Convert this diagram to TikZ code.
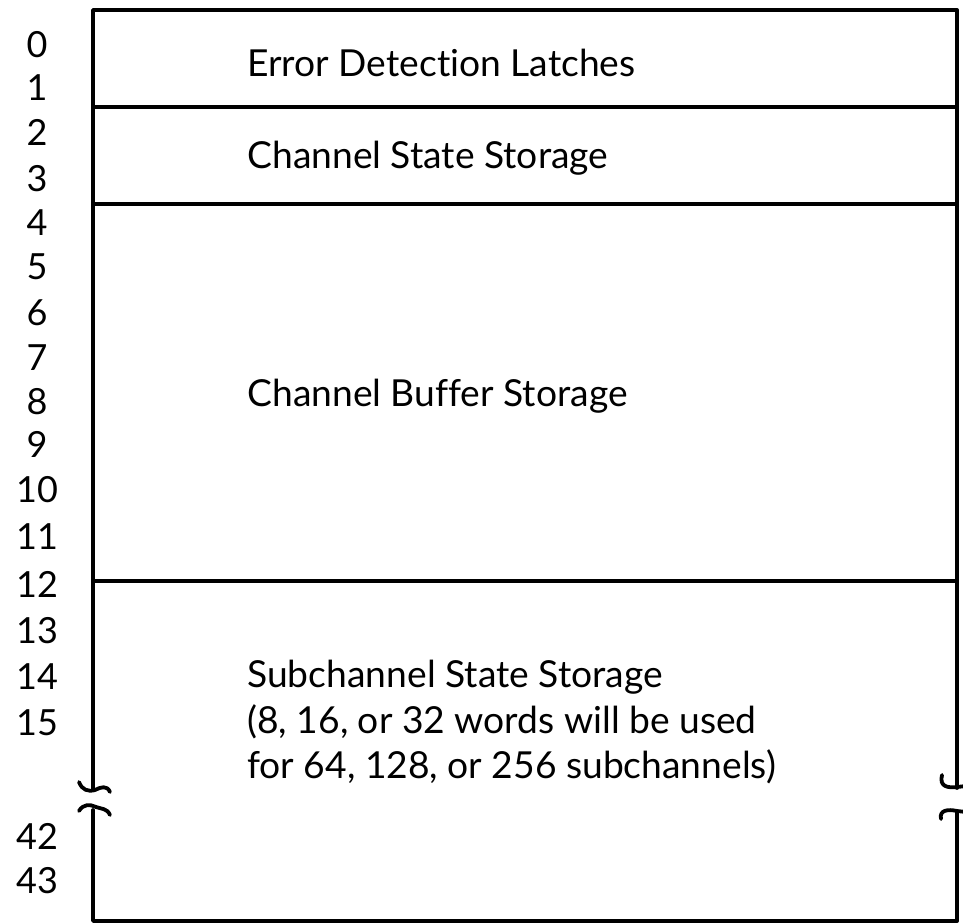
\documentclass[tikz,border=0pt]{standalone}
\usepackage{fontspec}
\setmainfont[Ligatures={NoCommon}]{Lato}
\begin{document}
\begin{tikzpicture}[x=0.5pt,y=-0.5pt,
  frame/.style={line width=1.9pt,line cap=round,line join=round},
  addr/.style={font=\fontsize{18}{21}\selectfont,anchor=center},
  label/.style={font=\fontsize{18.6}{22}\selectfont,anchor=west,inner sep=0pt}]
\useasboundingbox (0,0) rectangle (963,924);
\begin{scope}
\clip (0,0) rectangle (963,924);
% outer frame with broken sides
\draw[frame] (93,790) -- (93,10) -- (957,10) -- (957,788);
\draw[frame] (93,810) -- (93,921) -- (957,921) -- (957,812);
% section dividers
\draw[frame] (93,107) -- (957,107);
\draw[frame] (93,204) -- (957,204);
\draw[frame] (93,581) -- (957,581);
% break marks, left side
\draw[frame] (79,782) .. controls (82,790) and (88,792) .. (95,790) .. controls (101,787) and (107,785) .. (110,792);
\draw[frame] (79,811) .. controls (83,804) and (90,804) .. (96,807) .. controls (101,809) and (107,808) .. (110,815);
% break marks, right side
\draw[frame] (942,775) .. controls (939,787) and (948,788) .. (957,787) -- (966,786);
\draw[frame] (941,819) .. controls (939,810) and (948,809) .. (957,811) -- (966,812);
\end{scope}
% word addresses
\node[addr] (a0) at (37,45) {0};
\node[addr] (a1) at (37,88) {1};
\node[addr] (a2) at (37,132) {2};
\node[addr] (a3) at (37,179) {3};
\node[addr] (a4) at (37,223) {4};
\node[addr] (a5) at (37,267) {5};
\node[addr] (a6) at (37,313) {6};
\node[addr] (a7) at (37,358) {7};
\node[addr] (a8) at (37,402) {8};
\node[addr] (a9) at (37,444) {9};
\node[addr] (a10) at (37,490) {10};
\node[addr] (a11) at (37,537) {11};
\node[addr] (a12) at (37,584) {12};
\node[addr] (a13) at (37,631) {13};
\node[addr] (a14) at (37,677) {14};
\node[addr] (a15) at (37,723) {15};
\node[addr] (a42) at (37,836) {42};
\node[addr] (a43) at (37,881) {43};
% section labels
\node[label] (edl) at (247,63) {Error Detection Latches};
\node[label] (css) at (247,158) {Channel State Storage};
\node[label] (cbs) at (247,396) {Channel Buffer Storage};
\node[label] (sss1) at (247,677) {Subchannel State Storage};
\node[label] (sss2) at (247,722) {(8, 16, or 32 words will be used};
\node[label] (sss3) at (247,767) {for 64, 128, or 256 subchannels)};
\end{tikzpicture}
\end{document}
